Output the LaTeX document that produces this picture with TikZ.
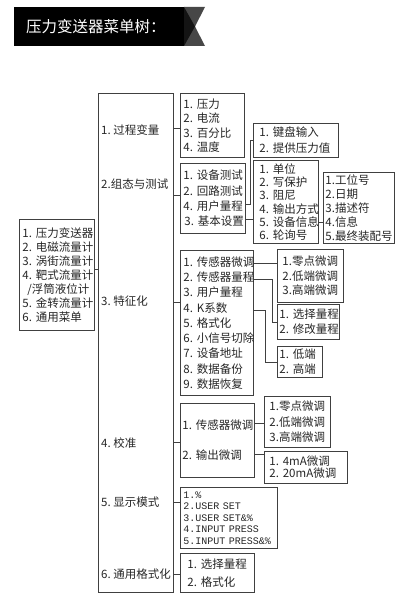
\documentclass[tikz,border=0pt]{standalone}
\usepackage{fontspec}
\setmainfont{Noto Sans CJK SC}
\newfontfamily\menumono{Liberation Mono}
\tikzset{
  box/.style={draw=black!75, line width=0.9pt, anchor=north west, align=left, inner xsep=3pt, inner ysep=0pt, text=black!85, font=\fontsize{11.5}{14}\selectfont},
  head/.style={anchor=west, inner sep=0pt, text=black!85, font=\fontsize{11.5}{14}\selectfont},
  link/.style={draw=black!75, line width=0.9pt},
  banner/.style={fill=black, anchor=north west, inner xsep=12pt, inner ysep=0pt, text=white, align=left, font=\fontsize{15.5}{18}\selectfont}
}

\begin{document}
\begin{tikzpicture}[x=1pt, y=-1pt]
    \useasboundingbox (0,0) rectangle (414,607);

    % title ribbon
    \fill[black!72] (184,7) -- (205,7) -- (195,26.5) -- (205,46) -- (184,46) -- cycle;
    \fill[black!92] (184,7) -- (195,26.5) -- (184,46) -- cycle;
    \node[banner, text width=146pt, minimum height=39pt] (title) at (14,7) {压力变送器菜单树：};

    % top menu and the main column
    \node[box, text width=69pt, minimum height=111pt] (menu) at (19,219) {1.~压力变送器\\2.~电磁流量计\\3.~涡街流量计\\4.~靶式流量计\\\hspace*{5pt}/浮筒液位计\\5.~金转流量计\\6.~通用菜单};
    \node[box, minimum width=75pt, minimum height=499pt, inner sep=0pt] (steps) at (98,93) {};

    \node[head] (pvlab) at (101,130) {1.~过程变量};
    \node[head] (cfglab) at (101,184) {2.组态与测试};
    \node[head] (charlab) at (101,301) {3.~特征化};
    \node[head] (callab) at (101,443) {4.~校准};
    \node[head] (displab) at (101,502) {5.~显示模式};
    \node[head] (genlab) at (101,574) {6.~通用格式化};

    % second level
    \node[box, text width=58pt, minimum height=64pt, font=\fontsize{11.5}{14.5}\selectfont] (pv) at (180,93) {1.~压力\\2.~电流\\3.~百分比\\4.~温度};
    \node[box, text width=59pt, minimum height=70pt, font=\fontsize{11.5}{15.3}\selectfont] (cfg) at (180,163) {1.~设备测试\\2.~回路测试\\4.~用户量程\\\hspace*{1pt}3.~基本设置};
    \node[box, text width=67pt, minimum height=145pt, font=\fontsize{11.5}{15.3}\selectfont] (char) at (180,250) {1.~传感器微调\\2.~传感器量程\\3.~用户量程\\4.~K系数\\5.~格式化\\6.~小信号切除\\7.~设备地址\\8.~数据备份\\9.~数据恢复};
    \node[box, inner xsep=2pt, text width=70pt, minimum height=74pt, font=\fontsize{11.5}{30}\selectfont] (calib) at (180,403) {1.~传感器微调\\2.~输出微调};
    \node[box, text width=91pt, minimum height=61pt, font=\menumono\fontsize{10}{11.5}\selectfont] (disp) at (180,487) {1.\%\\2.USER~SET\\3.USER~SET\&\%\\4.INPUT~PRESS\\5.INPUT~PRESS\&\%};
    \node[box, inner xsep=7pt, text width=60pt, minimum height=39pt, font=\fontsize{11.5}{18}\selectfont] (gen) at (180,553) {1.~选择量程\\2.~格式化};

    % third level
    \node[box, inner xsep=6pt, text width=73pt, minimum height=34pt, font=\fontsize{11.5}{16}\selectfont] (kbd) at (253,123) {1.~键盘输入\\2.~提供压力值};
    \node[box, inner xsep=6pt, text width=53pt, minimum height=83pt, font=\fontsize{11.5}{13.3}\selectfont] (basic) at (253,160) {1.~单位\\2.~写保护\\3.~阻尼\\4.~输出方式\\5.~设备信息\\6.~轮询号};
    \node[box, inner xsep=2pt, text width=67pt, minimum height=71pt] (info) at (323,172) {1.工位号\\2.日期\\3.描述符\\4.信息\\5.最终装配号};
    \node[box, inner xsep=5pt, text width=56pt, minimum height=53pt, font=\fontsize{11.5}{14.5}\selectfont] (trim) at (277,249) {1.零点微调\\2.低端微调\\3.高端微调};
    \node[box, inner xsep=2pt, text width=58pt, minimum height=35pt, font=\fontsize{11.5}{15}\selectfont] (range) at (277,304) {1.~选择量程\\2.~修改量程};
    \node[box, inner xsep=2pt, text width=41pt, minimum height=31pt, font=\fontsize{11.5}{15}\selectfont] (lowhigh) at (277,346) {1.~低端\\2.~高端};
    \node[box, inner xsep=5pt, text width=56pt, minimum height=51pt, font=\fontsize{11.5}{15.5}\selectfont] (trim2) at (264,396) {1.零点微调\\2.低端微调\\3.高端微调};
    \node[box, inner xsep=5pt, text width=73pt, minimum height=32pt, font=\fontsize{11.5}{12}\selectfont] (ma) at (264,451) {1.~4mA微调\\2.~20mA微调};

    % connectors
    \coordinate (menu-out) at (0,269);
    \draw[link] (menu.east |- menu-out) -- (steps.west |- menu-out);
    \foreach \n/\y in {pv/128, cfg/195, char/302, calib/442, disp/502, gen/574} {
        \coordinate (\n-in) at (0,\y);
        \draw[link] (steps.east |- \n-in) -- (\n.west |- \n-in);
    }
    \coordinate (user-out) at (0,204);
    \draw[link] (cfg.east |- user-out) -- ++(5,0) |- (kbd.west);
    \coordinate (set-out) at (0,219);
    \draw[link] (cfg.east |- set-out) -- (basic.west |- set-out);
    \coordinate (info-out) at (0,222);
    \draw[link] (basic.east |- info-out) -- (info.west |- info-out);
    \coordinate (trim-out) at (0,263);
    \draw[link] (char.east |- trim-out) -- (trim.west |- trim-out);
    \coordinate (range-out) at (0,279);
    \draw[link] (char.east |- range-out) -- ++(19,0) |- (range.west);
    \coordinate (k-out) at (0,310);
    \draw[link] (char.east |- k-out) -- ++(12,0) |- (lowhigh.west);
    \coordinate (trim2-out) at (0,423);
    \draw[link] (calib.east |- trim2-out) -- (trim2.west |- trim2-out);
    \coordinate (ma-out) at (0,454);
    \draw[link] (calib.east |- ma-out) -- (ma.west |- ma-out);
\end{tikzpicture}
\end{document}
